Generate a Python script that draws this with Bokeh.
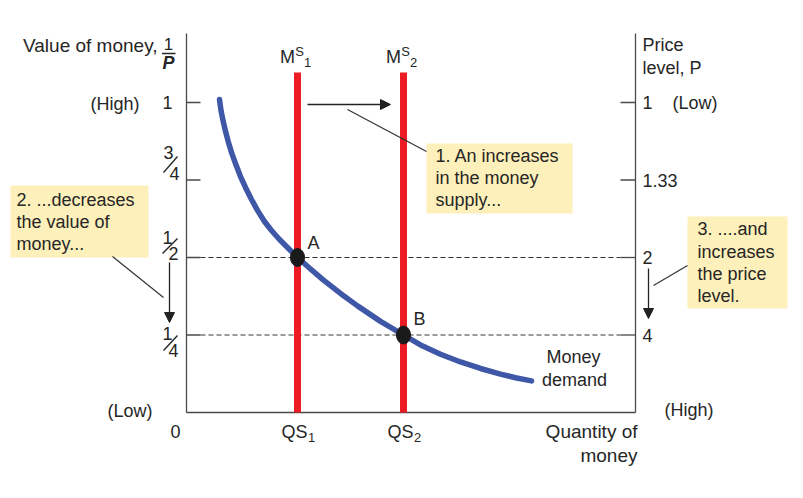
from bokeh.plotting import figure
from bokeh.models import Range1d, Arrow, NormalHead
from bokeh.core.properties import value
from bokeh.embed import file_html
from bokeh.resources import INLINE

# ---------------- data ----------------
demand_x = [0.33, 0.345, 0.365, 0.39, 0.42, 0.45, 0.49, 0.54, 0.59, 0.65, 0.71, 0.78, 0.85,
            0.93, 1.02, 1.11, 1.24, 1.37, 1.54, 1.71, 1.94, 2.17, 2.34, 2.54, 2.74, 2.94,
            3.14, 3.29, 3.45]
demand_y = [1.010, 0.974, 0.942, 0.907, 0.871, 0.839, 0.803, 0.761, 0.726, 0.687, 0.652,
            0.616, 0.587, 0.558, 0.529, 0.500, 0.463, 0.427, 0.384, 0.344, 0.294, 0.250,
            0.218, 0.188, 0.163, 0.142, 0.124, 0.112, 0.102]
supply_q = [1.11, 2.17]
supply_sub = ["1", "2"]
eq_x = [1.11, 2.17]
eq_y = [0.50, 0.25]
eq_labels = ["A", "B"]
value_ticks = [1.0, 0.75, 0.5, 0.25]
value_num = ["1", "3", "1", "1"]
value_den = ["", "4", "2", "4"]
price_labels = ["1", "1.33", "2", "4"]
q_max = 4.49

# ---------------- layout helpers (pixel layout -> data) ----------------
W, H = 803, 498
OX, OY = 186, 412          # origin in pixels
SX, SY = 100.0, 310.0      # pixels per data unit


def X(px):
    return (px - OX) / SX


def Y(py):
    return (OY - py) / SY


FONT = value("Liberation Sans")
TXT = "#262626"
AX = "#4a4a4a"
RED = "#ED1C24"
BLUE = "#3F57A7"
BOX = "#FDF0BA"

p = figure(width=W, height=H, x_range=Range1d(X(0), X(W)), y_range=Range1d(Y(H), Y(0)),
           min_border=0, x_axis_location=None, y_axis_location=None,
           toolbar_location=None, output_backend="svg")
p.outline_line_color = None
p.grid.visible = False
p.background_fill_color = "white"
p.border_fill_color = "white"


def txt(x, y, t, size="18px", align="left", style="normal", color=TXT):
    p.text(x=[x], y=[y], text=[t], text_font=FONT, text_font_size=size,
           text_align=align, text_baseline="middle", text_color=color,
           text_font_style=style)


# ---------------- axes ----------------
y_top = Y(33)
p.segment(x0=[0, q_max, 0], y0=[0, 0, 0], x1=[0, q_max, q_max], y1=[y_top, y_top, 0],
          line_color=AX, line_width=1.3)

tick_len_l = X(200) - 0
tick_len_r = q_max - X(620)
p.segment(x0=[0] * 4, y0=value_ticks, x1=[tick_len_l] * 4, y1=value_ticks,
          line_color=AX, line_width=1.3)
p.segment(x0=[q_max - tick_len_r] * 4, y0=value_ticks, x1=[q_max] * 4, y1=value_ticks,
          line_color=AX, line_width=1.3)

# dashed guides at the equilibria
p.segment(x0=[tick_len_l] * 2, y0=eq_y, x1=[q_max - tick_len_r] * 2, y1=eq_y,
          line_color="#333333", line_width=1, line_dash="5 3")

# ---------------- supply lines ----------------
supply_top = Y(72)
p.segment(x0=supply_q, y0=[0] * 2, x1=supply_q, y1=[supply_top] * 2,
          line_color=RED, line_width=7)

# ---------------- demand curve ----------------
p.line(demand_x, demand_y, line_color=BLUE, line_width=5.5, line_cap="round",
       line_join="round")

# ---------------- equilibrium dots ----------------
p.ellipse(x=eq_x, y=eq_y, width=14 / SX, height=18 / SY, fill_color="#1a1a1a",
          line_color="#1a1a1a")
for ex, ey, lab in zip(eq_x, eq_y, eq_labels):
    txt(ex + 16 / SX, ey + 15 / SY + (0 if lab == "A" else 1 / SY), lab, align="center")

# ---------------- left tick labels ----------------
txt(X(172), value_ticks[0], value_num[0], align="right")
num_pos = [(168, 152), (167, 237), (167, 333)]
den_pos = [(174, 173), (173, 253), (173, 350)]
slash = [((163, 172), (177, 156)), ((162, 253), (177, 238)), ((163, 350), (177, 335))]
for i in range(1, 4):
    txt(X(num_pos[i - 1][0]), Y(num_pos[i - 1][1]), value_num[i], size="18px", align="center")
    txt(X(den_pos[i - 1][0]), Y(den_pos[i - 1][1]), value_den[i], size="18px", align="center")
    (a, b), (c, d) = slash[i - 1]
    p.segment(x0=[X(a)], y0=[Y(b)], x1=[X(c)], y1=[Y(d)], line_color=TXT, line_width=1.4)
txt(X(175), Y(431), "0", align="center")

txt(X(157), Y(45), "Value of money,", size="19px", align="right")
txt(X(168), Y(43), "1", size="17px", align="center")
p.segment(x0=[X(161.5)], y0=[Y(53)], x1=[X(175)], y1=[Y(53)], line_color=TXT, line_width=1.4)
txt(X(168), Y(62), "P", size="18px", align="center", style="bold italic")
txt(X(139), Y(103), "(High)", align="right")
txt(X(152), Y(410), "(Low)", align="right")

# ---------------- right tick labels ----------------
for v, lab in zip(value_ticks, price_labels):
    txt(X(642), v, lab)
txt(X(642), Y(44), "Price")
txt(X(642), Y(67), "level, P")
txt(X(672), Y(102), "(Low)")
txt(X(664), Y(409), "(High)")

# ---------------- bottom labels ----------------
for q, s in zip(supply_q, supply_sub):
    txt(q - 3 / SX, Y(431), "QS", align="center")
    txt(q + 14 / SX, Y(437), s, size="13px", align="center")
    txt(q - 10 / SX, Y(56), "M", align="center")
    txt(q + 2 / SX, Y(51), "S", size="13px", align="center")
    txt(q + 10 / SX, Y(62), s, size="13px", align="center")
txt(X(637), Y(431), "Quantity of", size="19px", align="right")
txt(X(637), Y(455), "money", size="19px", align="right")

txt(X(573), Y(356), "Money", align="center")
txt(X(574), Y(379), "demand", align="center")

# ---------------- annotation boxes ----------------
p.quad(left=[X(426), X(10), X(687)], right=[X(572), X(148), X(787)],
       top=[Y(143), Y(185), Y(216)], bottom=[Y(213), Y(257), Y(308)],
       fill_color=BOX, line_color=None)
for t, yy in zip(["1. An increases", "in the money", "supply..."], [155, 177, 199]):
    txt(X(435), Y(yy), t)
for t, yy in zip(["2. ...decreases", "the value of", "money..."], [199, 221, 243]):
    txt(X(16), Y(yy), t)
for t, yy in zip(["3.  ....and", "increases", "the price", "level."], [228, 251, 273, 295]):
    txt(X(697), Y(yy), t)

# leader lines
p.segment(x0=[X(347), X(112), X(687)], y0=[Y(109), Y(256), Y(265)],
          x1=[X(426), X(163), X(653)], y1=[Y(151), Y(297), Y(285)],
          line_color="#333333", line_width=1.2)

# arrows
for (x0, y0, x1, y1) in [(307, 104, 390, 104), (169, 262, 169, 322), (648, 268, 648, 318)]:
    p.add_layout(Arrow(end=NormalHead(size=10, fill_color="#222222", line_color="#222222"),
                       x_start=X(x0), y_start=Y(y0), x_end=X(x1), y_end=Y(y1),
                       line_color="#222222", line_width=1.3))

open("out.html", "w").write(file_html(p, INLINE))
